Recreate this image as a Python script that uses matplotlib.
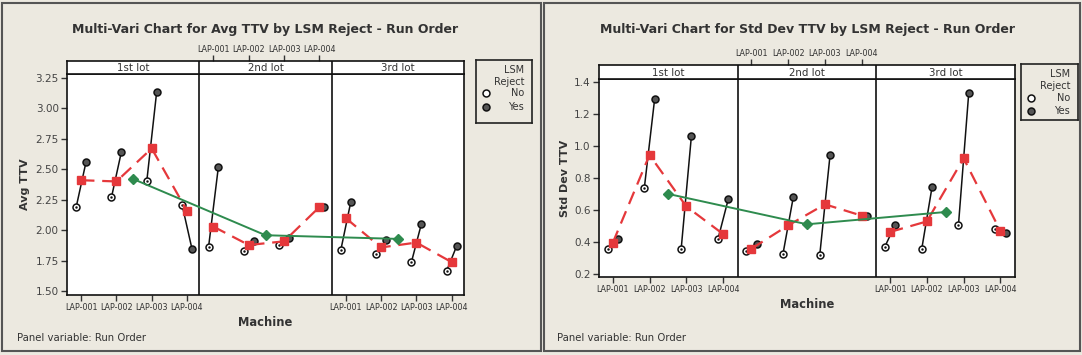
import numpy as np
import matplotlib
matplotlib.use("Agg")
import matplotlib.pyplot as plt
from matplotlib.patches import Rectangle

nan = np.nan
machines = ["LAP-001", "LAP-002", "LAP-003", "LAP-004"]
lots = ["1st lot", "2nd lot", "3rd lot"]

# Avg TTV
avg_no = [[2.19, 2.27, 2.40, 2.21], [1.86, 1.83, 1.88, nan], [1.84, 1.81, 1.74, 1.67]]
avg_yes = [[2.56, 2.64, 3.13, 1.85], [2.52, 1.91, 1.94, 2.19], [2.23, 1.92, 2.05, 1.87]]
avg_mean = [[2.41, 2.40, 2.67, 2.16], [2.03, 1.88, 1.91, 2.19], [2.10, 1.86, 1.90, 1.74]]
avg_lot = [2.42, 1.96, 1.93]

# Std Dev TTV
sd_no = [[0.354, 0.740, 0.354, 0.417], [0.346, 0.327, 0.321, nan], [0.371, 0.354, 0.507, 0.479]]
sd_yes = [[0.417, 1.296, 1.066, 0.667], [0.390, 0.682, 0.947, 0.565], [0.509, 0.742, 1.335, 0.456]]
sd_mean = [[0.394, 0.945, 0.623, 0.450], [0.358, 0.504, 0.636, 0.565], [0.463, 0.529, 0.924, 0.469]]
sd_lot = [0.701, 0.511, 0.588]

avg_yticks = [1.50, 1.75, 2.00, 2.25, 2.50, 2.75, 3.00, 3.25]
sd_yticks = [0.2, 0.4, 0.6, 0.8, 1.0, 1.2, 1.4]

W, H = 1082, 355
BG = "#ECE9E0"
RED = "#E5383B"
GREEN = "#2E8B4E"

fig = plt.figure(figsize=(W / 100, H / 100), dpi=100)
fig.patch.set_facecolor(BG)


def fr(x0, y0, x1, y1):
    return [x0 / W, 1 - y1 / H, (x1 - x0) / W, (y1 - y0) / H]


for (a, b) in [(2, 541), (544, 1080)]:
    fig.patches.append(Rectangle((a / W, 1 - 351 / H), (b - a) / W, 348 / H,
                                 transform=fig.transFigure, fill=False,
                                 edgecolor="#555555", lw=1.5))


def chart(main_px, strip_px, leg_px, leg_rows, no, yes, mean, lot, yticks, yfmt, ylim,
          PW, m0, title, ylabel, ylabel_x, title_y, note_x):
    ax = fig.add_axes(fr(*main_px))
    sx = fig.add_axes(fr(*strip_px))
    xlim = (m0, 3 * PW + m0)
    off = 0.14
    for k in range(3):
        ms = np.arange(1, 5) + k * PW
        n = np.array(no[k], dtype=float)
        y = np.array(yes[k], dtype=float)
        for i in range(4):
            if not np.isnan(n[i]) and not np.isnan(y[i]):
                ax.plot([ms[i] - off, ms[i] + off], [n[i], y[i]], color="#111111",
                        lw=1.1, zorder=2)
        ax.plot(ms - off, n, "o", ms=5, mfc="white", mec="#111111", mew=1.1, zorder=3)
        ax.plot(ms - off, n, ".", ms=1.5, color="#111111", zorder=4)
        ax.plot(ms + off, y, "o", ms=5, mfc="#555555", mec="#111111", mew=1.1, zorder=3)
        ax.plot(ms, mean[k], "--", color=RED, lw=1.6, dashes=(6, 3.5), zorder=5)
        ax.plot(ms, mean[k], "s", color=RED, ms=5.5, zorder=6)
    lx = np.arange(3) * PW + m0 + PW / 2
    ax.plot(lx, lot, "-", color=GREEN, lw=1.4, zorder=7)
    ax.plot(lx, lot, "D", color=GREEN, ms=5, zorder=8)
    for k in (1, 2):
        ax.axvline(m0 + k * PW, color="#111111", lw=1.2)
        sx.axvline(m0 + k * PW, color="#111111", lw=1.2)
    ax.set_xlim(*xlim)
    ax.set_ylim(*ylim)
    ax.set_facecolor("white")
    bt = [m + k * PW for k in (0, 2) for m in range(1, 5)]
    ax.set_xticks(bt)
    ax.set_xticklabels(machines * 2, fontsize=5.8, color="#333333")
    ax.set_yticks(yticks)
    ax.set_yticklabels([yfmt % v for v in yticks], fontsize=7.5, color="#444444")
    ax.tick_params(axis="both", direction="out", length=4, width=1, color="#333333", pad=2)
    for s in ax.spines.values():
        s.set_linewidth(1.2)
        s.set_color("#111111")
    ax.set_xlabel("Machine", fontsize=8.3, fontweight="bold", color="#333333", labelpad=3)
    # strip
    sx.set_xlim(*xlim)
    sx.set_ylim(0, 1)
    sx.set_yticks([])
    sx.xaxis.set_ticks_position("top")
    sx.set_xticks([m + PW for m in range(1, 5)])
    sx.set_xticklabels(machines, fontsize=5.8, color="#333333")
    sx.tick_params(axis="x", direction="out", length=4, width=1, color="#333333", pad=1)
    for s in sx.spines.values():
        s.set_linewidth(1.2)
        s.set_color("#111111")
    for k in range(3):
        sx.text(m0 + PW * (k + 0.5), 0.45, lots[k], ha="center", va="center",
                fontsize=7.4, color="#333333")
    # ylabel
    fig.text(ylabel_x / W, 1 - ((main_px[1] + main_px[3]) / 2) / H, ylabel, rotation=90,
             ha="center", va="center", fontsize=8, fontweight="bold", color="#333333")
    # title
    cx = (main_px[0] + main_px[2]) / 2
    fig.text(cx / W, 1 - title_y / H, title, ha="center", va="center", fontsize=9,
             fontweight="bold", color="#333333")
    fig.text(note_x / W, 1 - 338 / H, "Panel variable: Run Order", ha="left", va="center",
             fontsize=7.3, color="#333333")
    # legend
    lg = fig.add_axes(fr(*leg_px))
    lg.set_xlim(0, 1)
    lg.set_ylim(0, 1)
    lg.set_xticks([])
    lg.set_yticks([])
    lg.set_facecolor(BG)
    for s in lg.spines.values():
        s.set_linewidth(1.2)
        s.set_color("#222222")
    tx = 0.86
    for r, t in zip(leg_rows, ["LSM", "Reject", "No", "Yes"]):
        lg.text(tx, r, t, ha="right", va="center", fontsize=7, color="#333333")
    lg.plot([0.17], [leg_rows[2]], "o", ms=5, mfc="white", mec="#111111", mew=1.1)
    lg.plot([0.17], [leg_rows[3]], "o", ms=5, mfc="#555555", mec="#111111", mew=1.1)
    return ax


chart((67, 74, 464, 295), (67, 61, 464, 74), (476, 60, 532, 123), [0.84, 0.65, 0.47, 0.25],
      avg_no, avg_yes, avg_mean, avg_lot, avg_yticks, "%.2f", (1.471, 3.279),
      3.75, 0.60, "Multi-Vari Chart for Avg TTV by LSM Reject - Run Order",
      "Avg TTV", 25, 29, 17)

chart((599, 79, 1015, 277), (599, 65, 1015, 79), (1021, 64, 1078, 120), [0.82, 0.61, 0.39, 0.16],
      sd_no, sd_yes, sd_mean, sd_lot, sd_yticks, "%.1f", (0.181, 1.4207),
      3.77, 0.627, "Multi-Vari Chart for Std Dev TTV by LSM Reject - Run Order",
      "Std Dev TTV", 565, 29, 557)

fig.savefig("out.png", dpi=100, facecolor=BG)
